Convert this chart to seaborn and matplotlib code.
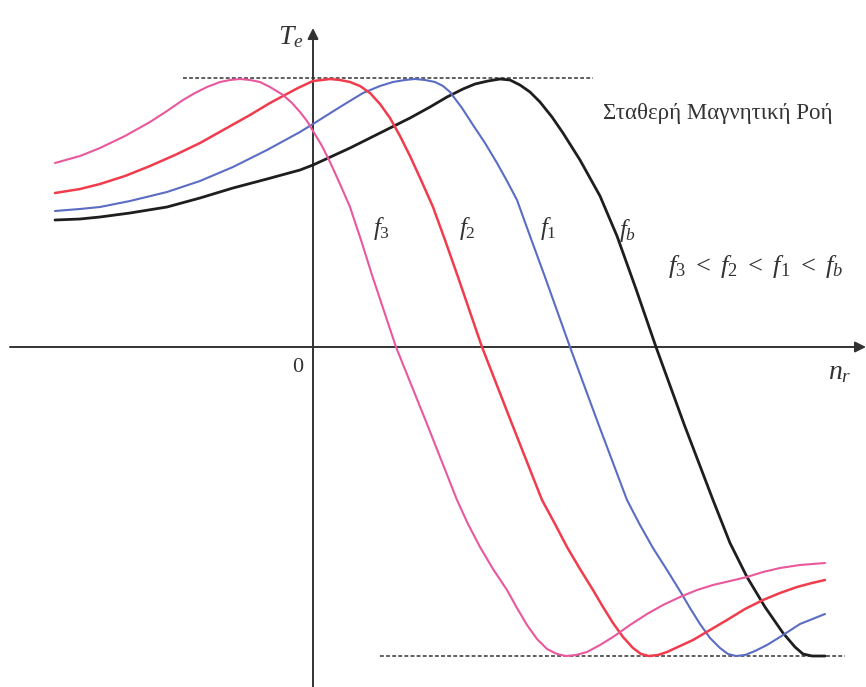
import numpy as np
import pandas as pd
import matplotlib
matplotlib.use("Agg")
import matplotlib.pyplot as plt
import seaborn as sns

# Torque-speed characteristics at constant flux, one curve per supply frequency
n_fb = [-258, -233, -213, -183, -146, -113, -80, -46, -13, 0, 37, 77, 97, 117, 134, 150, 162,
        175, 187, 197, 207, 217, 227, 239, 250, 267, 287, 304, 323, 343, 371, 400, 417, 434,
        452, 470, 482, 490, 499, 512]
t_fb = [127, 128, 130, 134, 140, 149, 159, 168, 177, 182, 199, 219, 229, 240, 250, 258, 263,
        266, 268, 267, 262, 255, 245, 230, 214, 187, 151, 111, 58, 0, -77, -153, -196, -230,
        -260, -286, -300, -307, -309, -309]

n_f1 = [-258, -233, -213, -183, -146, -113, -80, -46, -13, 0, 27, 50, 67, 80, 92, 102, 112,
        122, 130, 137, 149, 160, 172, 184, 194, 204, 217, 232, 257, 285, 314, 327, 340, 354,
        367, 377, 387, 397, 407, 415, 423, 432, 442, 454, 467, 487, 512]
t_f1 = [136, 138, 140, 146, 155, 166, 180, 197, 215, 223, 240, 254, 261, 265, 267, 268, 267,
        265, 261, 255, 239, 222, 204, 184, 166, 147, 111, 70, 0, -76, -153, -178, -201, -223,
        -244, -261, -277, -291, -301, -307, -309, -308, -304, -298, -290, -277, -267]

n_f2 = [-258, -233, -213, -188, -163, -138, -113, -88, -63, -43, -30, -15, 0, 9, 17, 27, 37,
        47, 57, 67, 77, 87, 97, 108, 120, 132, 145, 169, 199, 229, 242, 254, 267, 280, 290,
        300, 310, 320, 328, 336, 345, 354, 367, 380, 397, 414, 432, 450, 467, 484, 499, 512]
t_f2 = [154, 158, 163, 171, 181, 192, 204, 218, 232, 244, 251, 259, 266, 267, 268, 267, 265,
        261, 254, 243, 229, 211, 191, 167, 140, 107, 70, 0, -77, -153, -177, -200, -222, -243,
        -260, -276, -290, -301, -307, -309, -308, -305, -299, -293, -283, -273, -262, -253,
        -246, -240, -236, -233]

n_f3 = [-258, -233, -213, -188, -163, -146, -130, -118, -106, -93, -83, -73, -63, -53, -43,
        -30, -21, -13, -6, 0, 9, 17, 27, 37, 48, 59, 83, 114, 144, 155, 167, 180, 194, 204,
        214, 224, 234, 244, 253, 263, 274, 287, 300, 317, 334, 350, 367, 384, 400, 417, 434,
        450, 467, 487, 512]
t_f3 = [184, 191, 199, 211, 225, 236, 247, 254, 260, 265, 267, 268, 267, 265, 260, 252, 244,
        235, 226, 216, 201, 185, 163, 140, 107, 72, 0, -77, -153, -177, -200, -222, -243, -261,
        -278, -292, -302, -307, -309, -308, -305, -298, -290, -278, -267, -258, -250, -243,
        -238, -234, -230, -225, -221, -218, -216]

curve_names = ["f_b", "f_1", "f_2", "f_3"]
curve_colors = ["#1e1e1e", "#5a6cc4", "#f03c4c", "#e9589c"]
curve_widths = [2.0, 1.5, 1.8, 1.5]

label_text = [r"$f_3$", r"$f_2$", r"$f_1$", r"$f_b$"]
label_n = [69, 154, 235, 315]
label_t = [119, 119, 119, 117]

te_max, te_min = 269, -309
te_max_span = (-130, 280)
te_min_span = (67, 532)

sns.set_theme(style="white")
plt.rcParams["font.family"] = ["Liberation Serif", "DejaVu Serif"]
plt.rcParams["mathtext.fontset"] = "custom"
plt.rcParams["mathtext.rm"] = "Liberation Serif"
plt.rcParams["mathtext.it"] = "Liberation Serif:italic"

frames = []
for name, n, t in zip(curve_names, [n_fb, n_f1, n_f2, n_f3], [t_fb, t_f1, t_f2, t_f3]):
    frames.append(pd.DataFrame({"n_r": n, "T_e": t, "freq": name}))
df = pd.concat(frames, ignore_index=True)

fig = plt.figure(figsize=(8.66, 6.87), dpi=100)
ax = fig.add_axes([0, 0, 1, 1])
ax.set_xlim(-313, 553)
ax.set_ylim(-340, 347)
ax.axis("off")

# reference lines for the breakdown torque levels
ax.hlines(te_max, *te_max_span, colors="#333333", linestyles=(0, (2.5, 1.5)), lw=1.1, zorder=1)
ax.hlines(te_min, *te_min_span, colors="#333333", linestyles=(0, (2.5, 1.5)), lw=1.1, zorder=1)

# coordinate axes with arrow heads
ax.annotate("", xy=(553, 0), xytext=(-303, 0),
            arrowprops=dict(arrowstyle="-|>", lw=1.4, color="#333333", mutation_scale=16,
                            shrinkA=0, shrinkB=0), zorder=2)
ax.annotate("", xy=(0, 319), xytext=(0, -340),
            arrowprops=dict(arrowstyle="-|>", lw=1.4, color="#333333", mutation_scale=16,
                            shrinkA=0, shrinkB=0), zorder=2)

for name, color, lw in zip(curve_names, curve_colors, curve_widths):
    sub = df[df["freq"] == name]
    sns.lineplot(data=sub, x="n_r", y="T_e", sort=False, color=color, lw=lw, ax=ax,
                 legend=False, zorder=3, solid_joinstyle="round", solid_capstyle="round")

for txt, xn, yt in zip(label_text, label_n, label_t):
    ax.text(xn, yt, txt, fontsize=18, ha="center", va="center", color="#333333")

ax.text(-22, 310, r"$T_e$", fontsize=20, ha="center", va="center", color="#333333")
ax.text(-15, -21, "0", fontsize=16, ha="center", va="center", color="#333333")
ax.text(527, -26, r"$n_r$", fontsize=20, ha="center", va="center", color="#333333")
ax.text(290, 234, "Σταθερή Μαγνητική Ροή", fontsize=16.5, ha="left", va="center",
        color="#333333")
ax.text(355, 80, r"$f_3\,\, <\,\, f_2\,\, <\,\, f_1\,\, <\,\, f_b$", fontsize=19, ha="left",
        va="center", color="#333333")

fig.savefig("out.png", dpi=100)
